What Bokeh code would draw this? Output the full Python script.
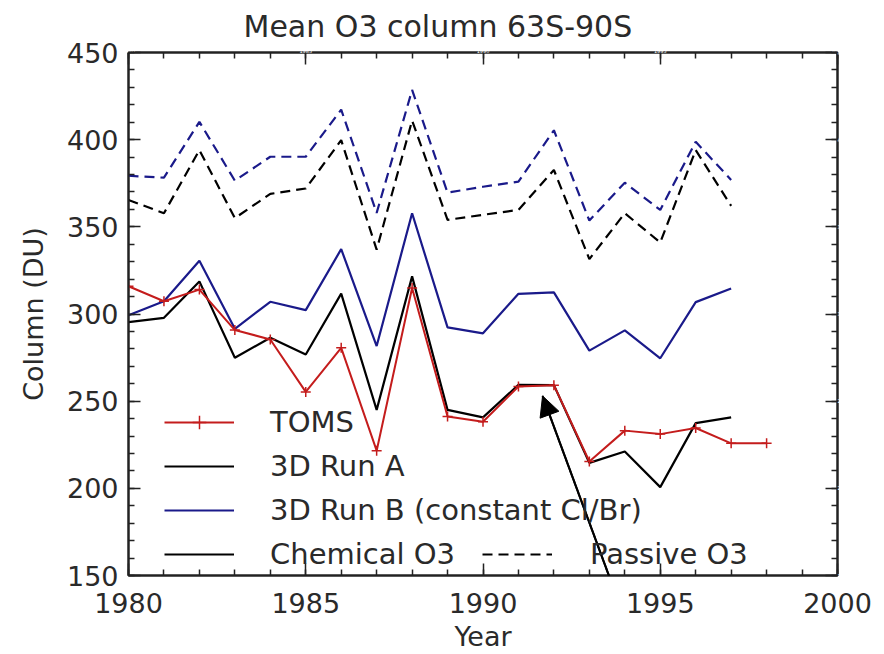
import math
from bokeh.plotting import figure
from bokeh.models import (LinearAxis, Range1d, Legend, LegendItem, Arrow,
                          NormalHead, TeeHead, FixedTicker)
from bokeh.embed import file_html
from bokeh.resources import INLINE

# ---------------- data ----------------
years_model = [1980, 1981, 1982, 1983, 1984, 1985, 1986, 1987, 1988,
               1989, 1990, 1991, 1992, 1993, 1994, 1995, 1996, 1997]
years_toms = years_model + [1998]

toms = [315.9, 307.3, 314.0, 290.8, 285.4, 255.3, 280.6, 221.6, 314.9,
        241.2, 238.2, 258.4, 259.2, 215.4, 233.1, 231.1, 234.6, 225.8, 225.8]
run_a_chem = [295.3, 297.8, 318.7, 274.9, 286.4, 276.8, 311.7, 245.0, 321.6,
              245.0, 240.7, 259.4, 259.2, 214.6, 221.1, 200.7, 237.4, 240.7]
run_b_chem = [299.3, 307.3, 330.5, 291.5, 307.0, 302.2, 337.2, 281.6, 357.8,
              292.3, 288.9, 311.6, 312.4, 279.0, 290.6, 274.6, 306.8, 314.6]
run_a_passive = [365.4, 357.8, 394.0, 355.0, 368.9, 372.0, 399.7, 336.9, 411.0,
                 354.0, 356.9, 359.7, 382.6, 331.5, 357.8, 341.0, 394.0, 362.0]
run_b_passive = [379.3, 378.2, 410.2, 376.5, 390.2, 390.2, 417.2, 358.0, 428.5,
                 369.6, 373.0, 375.9, 405.4, 353.6, 375.3, 359.7, 398.8, 376.9]

x_ticks = [1980, 1985, 1990, 1995, 2000]
x_minor = list(range(1980, 2001))
y_ticks = [150, 200, 250, 300, 350, 400, 450]
y_minor = list(range(150, 451, 10))

title_text = "Mean O3 column 63S-90S"
x_label = "Year"
y_label = "Column (DU)"
legend_labels = ["TOMS", "3D Run A", "3D Run B (constant Cl/Br)",
                 "Chemical O3", "Passive O3"]

# arrow annotation (points at the 1991-1992 plateau, tail runs off the page)
arrow_tail = (1994.37, 104.9)
arrow_tip = (1991.68, 253.0)

# ---------------- styling ----------------
FONT = "DejaVu Sans"
TXT = "#2a2a2a"
RED = "#c41c1c"
BLUE = "#1a1a8a"
BLACK = "#000000"
DASH = "10 6"

W, H = 884, 654
BL, BR, BT, BB = 128, 47, 52, 79          # borders around the frame
X0, X1, Y0, Y1 = 1980, 2000, 150, 450

p = figure(width=W, height=H,
           x_range=Range1d(X0, X1), y_range=Range1d(Y0, Y1),
           output_backend="svg", toolbar_location=None,
           min_border_left=BL, min_border_right=BR,
           min_border_top=BT, min_border_bottom=BB,
           background_fill_color="white", border_fill_color="white")

p.title.text = title_text
p.title.align = "left"
p.title.offset = 115
p.title.standoff = 4
p.title.text_font = FONT
p.title.text_font_size = "30px"
p.title.text_font_style = "normal"
p.title.text_color = TXT

p.xgrid.visible = False
p.ygrid.visible = False
p.outline_line_color = "#222222"
p.outline_line_width = 2


def style_axis(ax, ticks, minor, labels=True):
    ax.ticker = FixedTicker(ticks=ticks, minor_ticks=minor)
    ax.major_tick_in = 12
    ax.major_tick_out = 0
    ax.minor_tick_in = 6
    ax.minor_tick_out = 0
    ax.axis_line_color = "#222222"
    ax.axis_line_width = 2
    ax.major_tick_line_color = "#222222"
    ax.major_tick_line_width = 1.5
    ax.minor_tick_line_color = "#222222"
    ax.minor_tick_line_width = 1.5
    ax.major_label_text_font = FONT
    ax.major_label_text_color = TXT
    ax.axis_label_text_font = FONT
    ax.axis_label_text_color = TXT
    ax.axis_label_text_font_style = "normal"
    if labels:
        ax.major_label_text_font_size = "27px"
        ax.axis_label_text_font_size = "27px"
    else:
        # mirrored axes: tick labels present but white (as in the IDL original)
        ax.major_label_text_font_size = "5px"
        ax.major_label_text_color = "white"
        ax.major_label_standoff = 0


xb = p.xaxis[0]
style_axis(xb, x_ticks, x_minor)
xb.axis_label = x_label
xb.major_label_standoff = 17
xb.axis_label_standoff = 5

yl = p.yaxis[0]
style_axis(yl, y_ticks, y_minor)
yl.axis_label = y_label
yl.major_label_standoff = 10
yl.axis_label_standoff = 15
yl.major_label_orientation = "horizontal"

xt = LinearAxis()
style_axis(xt, x_ticks, x_minor, labels=False)
p.add_layout(xt, "above")
yr = LinearAxis()
style_axis(yr, y_ticks, y_minor, labels=False)
p.add_layout(yr, "right")

# ---------------- data lines ----------------
pb = p.line(years_model, run_b_passive, line_color=BLUE, line_width=2.2,
            line_dash=DASH)
pa = p.line(years_model, run_a_passive, line_color=BLACK, line_width=2.2,
            line_dash=DASH)
rb = p.line(years_model, run_b_chem, line_color=BLUE, line_width=2.2)
ra = p.line(years_model, run_a_chem, line_color=BLACK, line_width=2.2)
tl = p.line(years_toms, toms, line_color=RED, line_width=2)
tp = p.scatter(years_toms, toms, marker="cross", size=10,
               line_color=RED, line_width=1.5)

# ---------------- legends ----------------
common = dict(border_line_color=None, background_fill_alpha=0,
              padding=0, margin=0, glyph_width=70, glyph_height=34,
              label_height=34, spacing=10,
              label_text_font=FONT, label_text_font_size="29px",
              label_text_color=TXT)

leg1 = Legend(items=[
    LegendItem(label=legend_labels[0], renderers=[tl, tp]),
    LegendItem(label=legend_labels[1], renderers=[ra]),
    LegendItem(label=legend_labels[2], renderers=[rb]),
    LegendItem(label=legend_labels[3], renderers=[ra]),
], location=(36, 4), label_standoff=36, **common)
p.add_layout(leg1)

leg2 = Legend(items=[
    LegendItem(label=legend_labels[4], renderers=[pa]),
], location=(354, 4), label_standoff=38, **common)
p.add_layout(leg2)

# ---------------- arrow ----------------
p.add_layout(Arrow(end=NormalHead(size=20, fill_color=BLACK,
                                  line_color=BLACK, line_width=1),
                   x_start=arrow_tail[0], y_start=arrow_tail[1],
                   x_end=arrow_tip[0], y_end=arrow_tip[1],
                   line_color=BLACK, line_width=2), "below")

# An arrow's shaft is clipped to the frame; try drawing the full shaft as the
# "tee" head of a tiny perpendicular helper arrow so the tail can leave it.
sx = (W - BL - BR) / (X1 - X0)          # px per year
sy = (H - BT - BB) / (Y1 - Y0)          # px per DU
dxp = (arrow_tip[0] - arrow_tail[0]) * sx
dyp = (arrow_tip[1] - arrow_tail[1]) * sy
length = math.hypot(dxp, dyp)
ux, uy = dxp / length, dyp / length
mid_x = (arrow_tip[0] + arrow_tail[0]) / 2
mid_y = (arrow_tip[1] + arrow_tail[1]) / 2
off = 10.0
p.add_layout(Arrow(end=TeeHead(size=length, line_color=BLACK, line_width=2),
                   x_start=mid_x - uy * off / sx, y_start=mid_y + ux * off / sy,
                   x_end=mid_x, y_end=mid_y,
                   line_alpha=0), "below")

open("out.html", "w").write(file_html(p, INLINE))
